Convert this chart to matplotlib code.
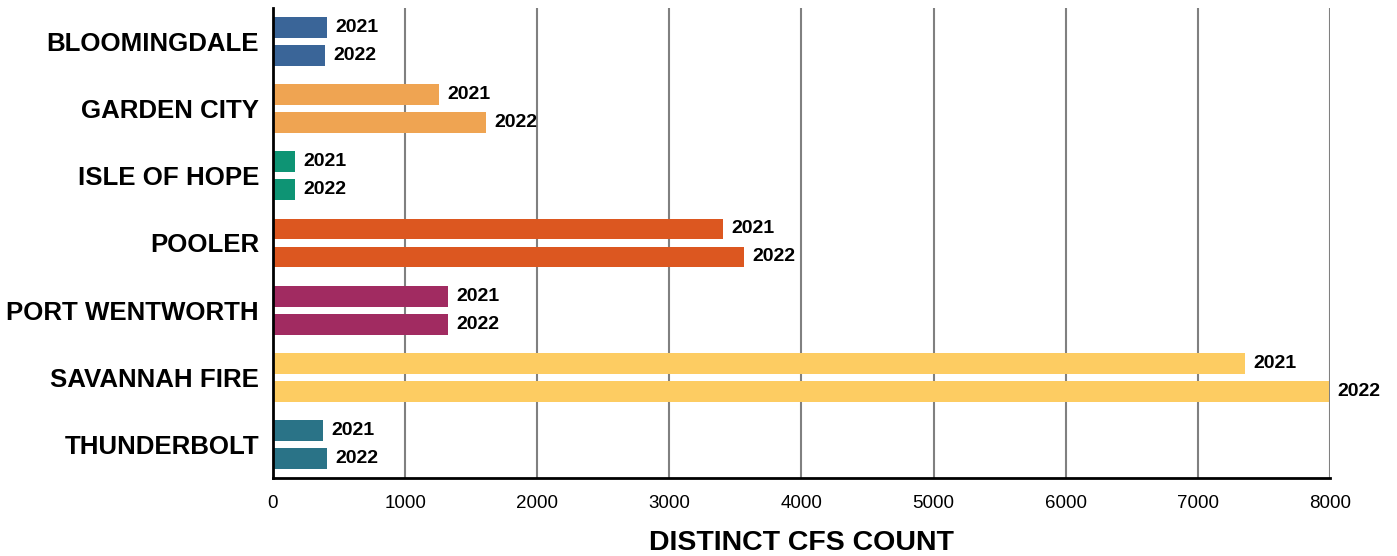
import matplotlib.pyplot as plt
import numpy as np

plt.rcParams["font.family"] = ["Liberation Sans", "DejaVu Sans"]

categories = ["BLOOMINGDALE", "GARDEN CITY", "ISLE OF HOPE", "POOLER",
              "PORT WENTWORTH", "SAVANNAH FIRE", "THUNDERBOLT"]
counts_2021 = [409, 1258, 167, 3409, 1326, 7356, 379]
counts_2022 = [394, 1614, 167, 3568, 1326, 7995, 409]
year_labels = ["2021", "2022"]
colors = ["#3A6598", "#EFA452", "#0E9474", "#DC5720",
          "#A12B61", "#FDCC62", "#2A7387"]

fig = plt.figure(figsize=(13.97, 5.56), dpi=100)
ax = fig.add_axes([0.1954, 0.140, 0.7566, 0.846])

y = np.arange(len(categories))
offset = 0.208
height = 0.31

for vals, off, lab in [(counts_2021, -offset, year_labels[0]),
                       (counts_2022, offset, year_labels[1])]:
    bars = ax.barh(y + off, vals, height=height, color=colors, zorder=3)
    for bar, v in zip(bars, vals):
        ax.annotate(lab, (v, bar.get_y() + bar.get_height() / 2),
                    xytext=(6, 0), textcoords="offset points",
                    ha="left", va="center", fontsize=14, fontweight="bold",
                    zorder=4, annotation_clip=False)

ax.set_xlim(0, 8000)
ax.set_ylim(len(categories) - 0.5, -0.5)
ax.set_xticks(range(0, 8001, 1000))
ax.set_yticks(y)
ax.set_yticklabels(categories, fontsize=18.6, fontweight="bold")
ax.tick_params(axis="x", length=0, pad=12, labelsize=13.5)
ax.tick_params(axis="y", length=0, pad=10)

ax.grid(True, axis="x", color="#808080", linewidth=1.5, zorder=0)
ax.grid(False, axis="y")
for side in ["top", "right"]:
    ax.spines[side].set_visible(False)
for side in ["left", "bottom"]:
    ax.spines[side].set_color("black")
    ax.spines[side].set_linewidth(2)
    ax.spines[side].set_zorder(5)

ax.set_xlabel("DISTINCT CFS COUNT", fontsize=20.5, fontweight="bold", labelpad=13)

fig.savefig("out.png", dpi=100)
